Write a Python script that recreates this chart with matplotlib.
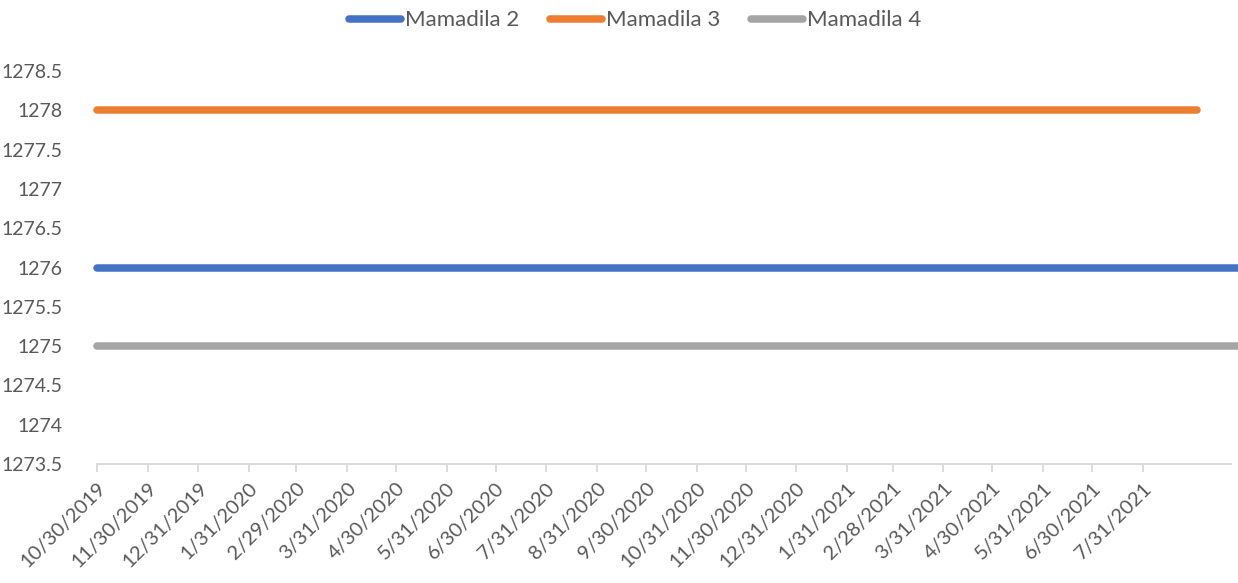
import datetime as dt
import matplotlib
matplotlib.use('Agg')
import matplotlib.pyplot as plt

plt.rcParams['font.family'] = ['Lato', 'DejaVu Sans']

## data
series_names = ['Mamadila 2', 'Mamadila 3', 'Mamadila 4']
series_levels = [1276, 1278, 1275]
start_date = dt.date(2019, 10, 30)
end_dates = [dt.date(2021, 10, 5), dt.date(2021, 9, 2), dt.date(2021, 10, 5)]
colors = ['#4472C4', '#ED7D31', '#A5A5A5']
tick_dates = ['10/30/2019', '11/30/2019', '12/31/2019', '1/31/2020', '2/29/2020',
              '3/31/2020', '4/30/2020', '5/31/2020', '6/30/2020', '7/31/2020',
              '8/31/2020', '9/30/2020', '10/31/2020', '11/30/2020', '12/31/2020',
              '1/31/2021', '2/28/2021', '3/31/2021', '4/30/2021', '5/31/2021',
              '6/30/2021', '7/31/2021']
y_ticks = [1273.5, 1274, 1274.5, 1275, 1275.5, 1276, 1276.5, 1277, 1277.5, 1278, 1278.5]

txt = '#595959'
fig = plt.figure(figsize=(12.38, 5.83), dpi=100)
ax = fig.add_axes([0.0784, 0.2041, 0.9159, 0.6741])

for name, lvl, end, c in zip(series_names, series_levels, end_dates, colors):
    ax.plot([start_date, end], [lvl, lvl], color=c, lw=5.4, label=name,
            solid_capstyle='round', clip_on=False)

ticks = [dt.datetime.strptime(s, '%m/%d/%Y').date() for s in tick_dates]
ax.set_xlim(start_date, dt.date(2021, 9, 23))
ax.set_ylim(1273.5, 1278.5)
ax.set_xticks(ticks)
ax.set_xticklabels(tick_dates, rotation=45, ha='right', rotation_mode='anchor',
                   fontsize=14.5, color=txt)
ax.set_yticks(y_ticks)
ax.set_yticklabels(['{:g}'.format(v) for v in y_ticks], fontsize=14, color=txt)

for s in ['top', 'right', 'left']:
    ax.spines[s].set_visible(False)
ax.spines['bottom'].set_color('#D9D9D9')
ax.spines['bottom'].set_linewidth(1.3)
ax.tick_params(axis='x', length=6, width=1.3, color='#D9D9D9', pad=5)
ax.tick_params(axis='y', length=0, pad=25)

fig.legend(loc='center', bbox_to_anchor=(0.513, 0.965), ncol=3, frameon=False,
           fontsize=16, handlelength=2.35, handletextpad=0.15, columnspacing=1.4,
           labelcolor=txt)

fig.savefig('out.png', dpi=100)
